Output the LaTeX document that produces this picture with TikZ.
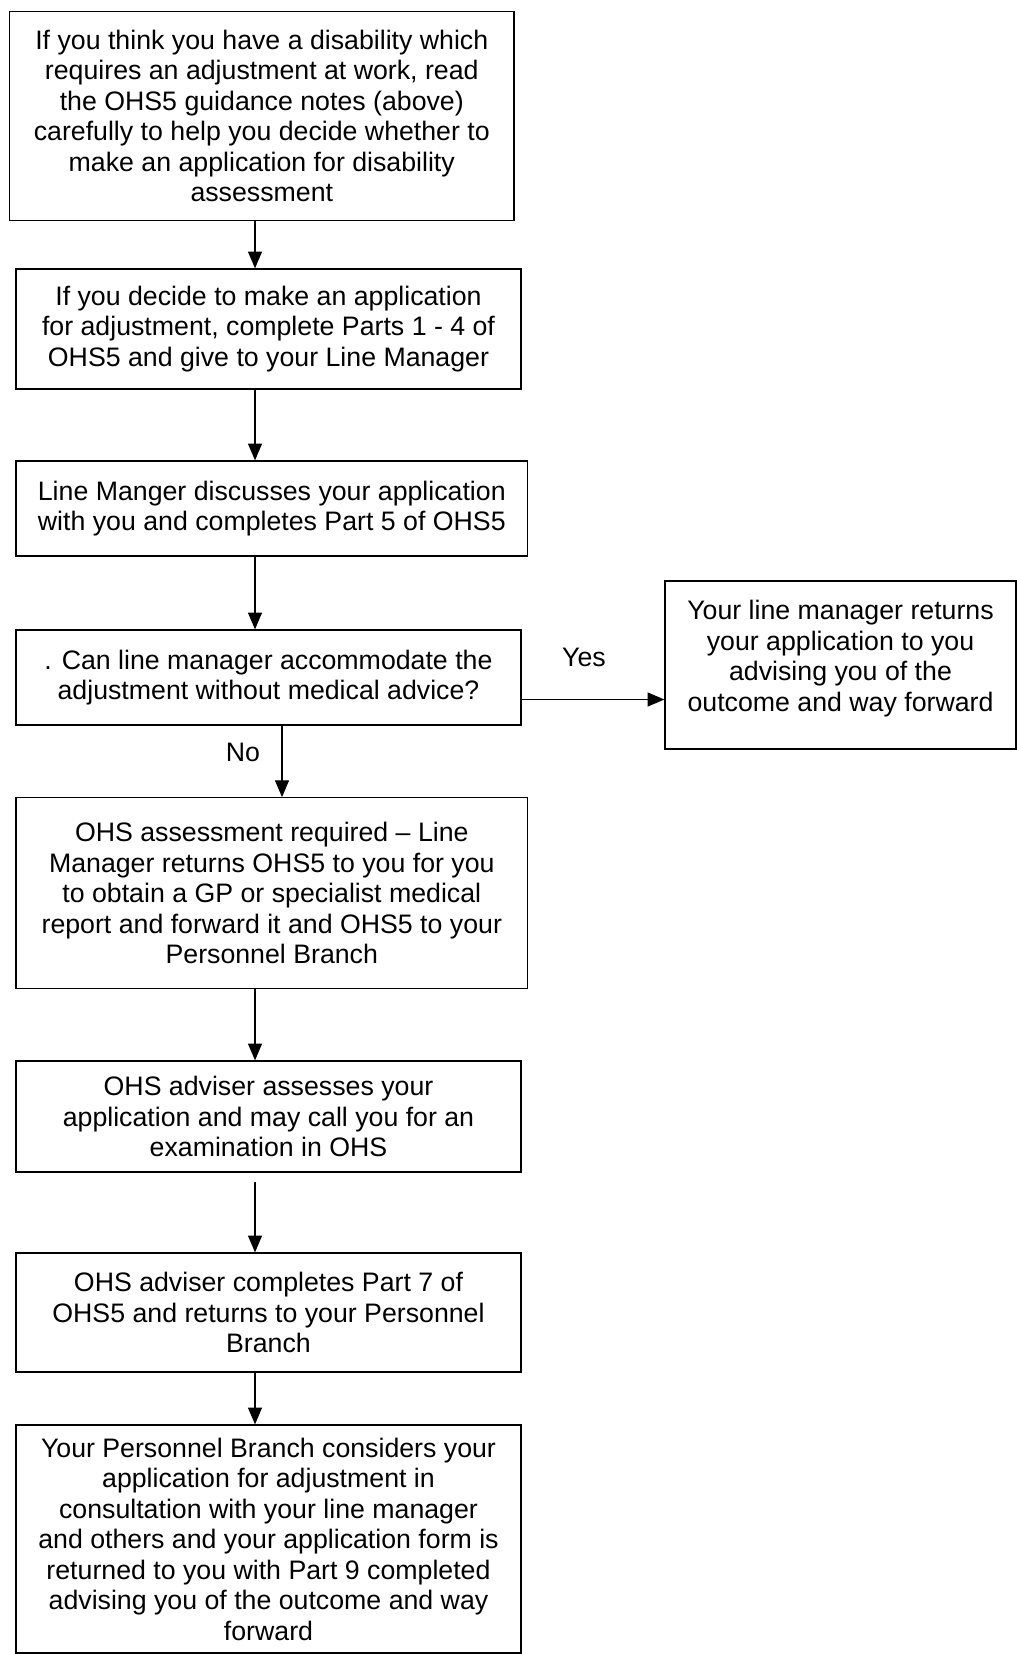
\documentclass[tikz,border=0pt]{standalone}
\usepackage{fontspec}
\setmainfont{Liberation Sans}
\usetikzlibrary{arrows.meta}
\begin{document}
\begin{tikzpicture}[x=0.025cm,y=-0.025cm,line width=0.9pt,
  box/.style={draw,inner sep=0mm,align=center,font=\fontsize{19}{21.7}\selectfont},
  lbl/.style={inner sep=0mm,font=\fontsize{19}{21.7}\selectfont},
  >={Triangle[length=0.42cm,width=0.35cm]}]
\useasboundingbox (0,0) rectangle (1017,1654);
\foreach \x/\y/\w/\h/\n/\t in {
  261.8/116/504.5/209/read/{If you think you have a disability which\\requires an adjustment at work, read\\the OHS5 guidance notes (above)\\carefully to help you decide whether to\\make an application for disability\\assessment},
  268.5/329/505/120/apply/{If you decide to make an application\\for adjustment, complete Parts 1 - 4 of\\OHS5 and give to your Line Manager},
  271.8/508.5/511.5/95/discuss/{Line Manger discusses your application\\with you and completes Part 5 of OHS5},
  268.5/677.5/505/95/ask/{. Can line manager accommodate the\\adjustment without medical advice?},
  840.5/665/351/168/returns/{Your line manager returns\\your application to you\\advising you of the\\outcome and way forward\\[-0.45em]},
  271.8/893/511.5/190.5/ohs/{OHS assessment required -- Line\\Manager returns OHS5 to you for you\\to obtain a GP or specialist medical\\report and forward it and OHS5 to your\\Personnel Branch},
  268.5/1116.5/505/111/assess/{OHS adviser assesses your\\application and may call you for an\\examination in OHS},
  268.5/1312.5/505/119/part7/{OHS adviser completes Part 7 of\\OHS5 and returns to your Personnel\\Branch},
  268.5/1539/505/228/branch/{Your Personnel Branch considers your\\application for adjustment in\\consultation with your line manager\\and others and your application form is\\returned to you with Part 9 completed\\advising you of the outcome and way\\forward}}
  \node[box,minimum width=\w*0.025cm,minimum height=\h*0.025cm] (\n) at (\x,\y) {\t};
\coordinate (spine) at (255,0);
\coordinate (nox) at (282,0);
\coordinate (yesy) at (0,699.5);
\node[lbl] (yes) at (584,657) {Yes};
\node[lbl] (no) at (243,752) {No};
\foreach \s/\t in {read/apply, apply/discuss, discuss/ask, ohs/assess, part7/branch}
  \draw[->] (\s.south -| spine) -- (\t.north -| spine);
\draw[->,shorten <=0.24cm] (assess.south -| spine) -- (part7.north -| spine);
\draw[->] (ask.south -| nox) -- (ohs.north -| nox);
\draw[->] (ask.east |- yesy) -- (returns.west |- yesy);

\end{tikzpicture}
\end{document}
